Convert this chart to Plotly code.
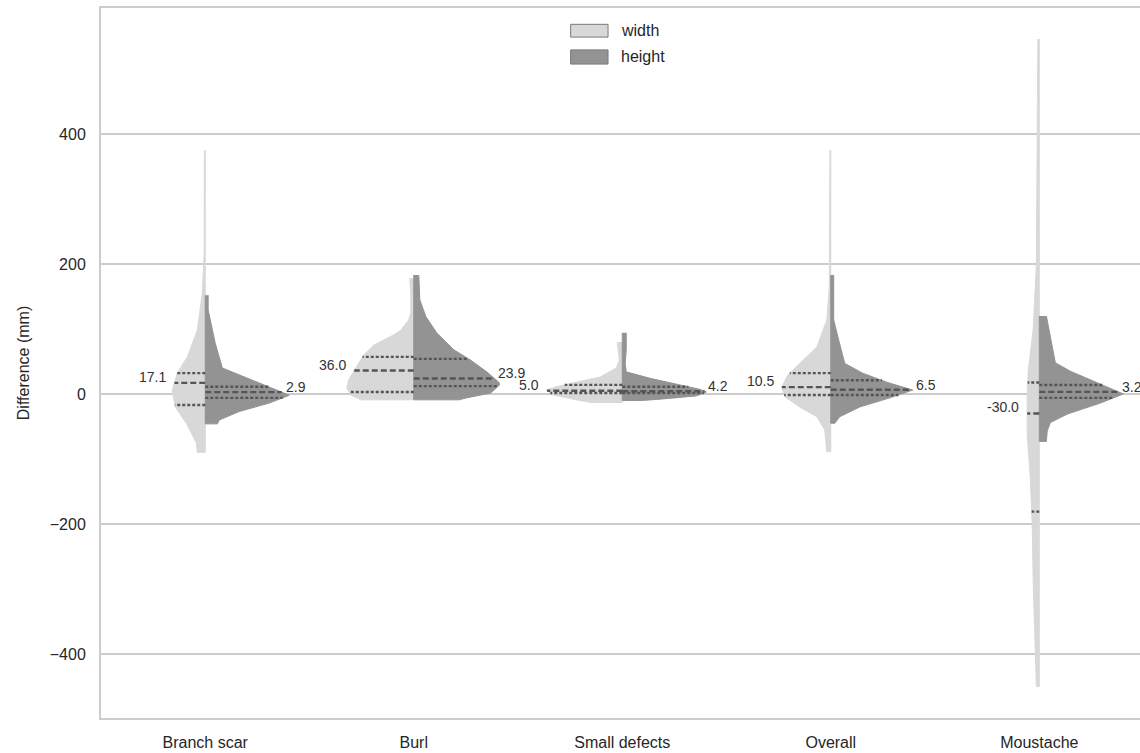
import numpy as np
import plotly.graph_objects as go

# categories on the x axis
categories = ["Branch scar", "Burl", "Small defects", "Overall", "Moustache"]

# half-violin profiles: y in mm, half-width in category units
branch_width_y = [375, 217, 155, 98, 57, 32, 6, -20, -45, -75, -90]
branch_width_w = [0.004, 0.005, 0.014, 0.038, 0.086, 0.134, 0.158, 0.144, 0.091, 0.043, 0.038]
branch_height_y = [152, 129, 78, 40, 25, 11, -2, -14, -27, -40, -46]
branch_height_w = [0.014, 0.014, 0.048, 0.082, 0.197, 0.307, 0.403, 0.307, 0.163, 0.067, 0.058]

burl_width_y = [178, 155, 125, 114, 98, 91, 75, 60, 40, 22, 9, -1.5, -9]
burl_width_w = [0.019, 0.014, 0.014, 0.024, 0.062, 0.096, 0.192, 0.240, 0.278, 0.312, 0.321, 0.302, 0.254]
burl_height_y = [183, 145, 119, 94, 68, 52, 34, 18, 14, 1.5, -6, -9]
burl_height_w = [0.024, 0.029, 0.058, 0.110, 0.192, 0.273, 0.350, 0.408, 0.412, 0.369, 0.254, 0.216]

small_width_y = [80, 68, 52, 40, 26, 18, 11, 6, -1.5, -9, -13]
small_width_w = [0.024, 0.019, 0.014, 0.029, 0.106, 0.221, 0.317, 0.365, 0.331, 0.221, 0.153]
small_height_y = [94, 68, 47, 34, 24, 15, 7, 3, -3, -8, -10]
small_height_w = [0.019, 0.019, 0.014, 0.019, 0.134, 0.259, 0.374, 0.403, 0.355, 0.182, 0.096]

overall_width_y = [375, 165, 114, 72, 47, 29, 11, -4, -20, -35, -55, -89]
overall_width_w = [0.004, 0.007, 0.019, 0.067, 0.149, 0.206, 0.235, 0.221, 0.149, 0.067, 0.029, 0.019]
overall_height_y = [183, 114, 88, 47, 32, 18, 6, -6, -20, -35, -45]
overall_height_w = [0.014, 0.014, 0.034, 0.067, 0.153, 0.269, 0.393, 0.283, 0.139, 0.043, 0.019]

moustache_width_y = [546, 400, 199, 100, 35, 2, -63, -129, -201, -292, -400, -450]
moustache_width_w = [0.007, 0.010, 0.014, 0.029, 0.053, 0.058, 0.058, 0.043, 0.034, 0.029, 0.019, 0.014]
moustache_height_y = [120, 87, 48, 35, 15, 0, -14, -31, -44, -57, -73]
moustache_height_w = [0.034, 0.053, 0.077, 0.149, 0.293, 0.403, 0.293, 0.134, 0.053, 0.038, 0.034]

# quartiles (q3, median, q1) per category
width_q3 = [32, 57, 14, 32, 17.6]
width_median = [17.1, 36.0, 5.0, 10.5, -30.0]
width_q1 = [-17, 3, 1.5, -1.5, -181]
height_q3 = [11, 54, 11, 21, 13.7]
height_median = [2.9, 23.9, 4.2, 6.5, 3.2]
height_q1 = [-6, 12, 1.5, -1.5, -6]

width_profiles = [(branch_width_y, branch_width_w), (burl_width_y, burl_width_w),
                  (small_width_y, small_width_w), (overall_width_y, overall_width_w),
                  (moustache_width_y, moustache_width_w)]
height_profiles = [(branch_height_y, branch_height_w), (burl_height_y, burl_height_w),
                   (small_height_y, small_height_w), (overall_height_y, overall_height_w),
                   (moustache_height_y, moustache_height_w)]

LIGHT = "#d8d8d8"
DARK = "#939393"
INNER = "#555555"
TEXT = "#262626"
GRID = "#cccccc"
FONT = "Liberation Sans, Arial, sans-serif"

fig = go.Figure()


def half_width_at(profile, y):
    ys, ws = profile
    return float(np.interp(y, ys[::-1], ws[::-1]))


def add_half(i, profile, sign, color):
    ys, ws = profile
    xs = [i + sign * w for w in ws] + [i, i]
    yy = list(ys) + [ys[-1], ys[0]]
    fig.add_trace(go.Scatter(
        x=xs, y=yy, mode="lines", fill="toself", fillcolor=color,
        line=dict(color=color, width=1), hoverinfo="skip", showlegend=False,
    ))


def add_quartiles(i, profile, sign, q3, med, q1):
    for val, dash in [(q3, "3px,2px"), (med, "6px,3px"), (q1, "3px,2px")]:
        w = half_width_at(profile, val)
        fig.add_trace(go.Scatter(
            x=[i, i + sign * w], y=[val, val], mode="lines",
            line=dict(color=INNER, width=2.4, dash=dash),
            hoverinfo="skip", showlegend=False,
        ))


for i, cat in enumerate(categories):
    add_half(i, width_profiles[i], -1, LIGHT)
    add_half(i, height_profiles[i], 1, DARK)
    add_quartiles(i, width_profiles[i], -1, width_q3[i], width_median[i], width_q1[i])
    add_quartiles(i, height_profiles[i], 1, height_q3[i], height_median[i], height_q1[i])

    # median labels
    wl = half_width_at(width_profiles[i], width_median[i])
    fig.add_annotation(x=i - wl, y=width_median[i], text=f"{width_median[i]:.1f}",
                       xanchor="right", yanchor="middle", xshift=-6, yshift=6,
                       showarrow=False, font=dict(size=14, color="#333333", family=FONT))
    wr = half_width_at(height_profiles[i], height_median[i])
    fig.add_annotation(x=i + wr, y=height_median[i], text=f"{height_median[i]:.1f}",
                       xanchor="left", yanchor="middle", xshift=2, yshift=5,
                       showarrow=False, font=dict(size=14, color="#333333", family=FONT))

# legend drawn by hand to mimic the boxed patches
for (label, color, y0, y1, ty) in [("width", LIGHT, 0.959, 0.977, 0.969),
                                   ("height", DARK, 0.921, 0.941, 0.931)]:
    fig.add_shape(type="rect", xref="paper", yref="paper", x0=0.452, x1=0.488, y0=y0, y1=y1,
                  fillcolor=color, line=dict(color="#7a7a7a", width=1))
    fig.add_annotation(xref="paper", yref="paper", x=0.499, y=ty, text=label,
                       xanchor="left", yanchor="middle", showarrow=False,
                       font=dict(size=16, color=TEXT, family=FONT))

fig.update_layout(
    width=1140, height=753,
    margin=dict(l=101, r=0, t=8, b=35),
    plot_bgcolor="white", paper_bgcolor="white",
    font=dict(family=FONT, size=16, color=TEXT),
    showlegend=False,
)
fig.update_xaxes(
    range=[-0.5, 4.483], tickmode="array", tickvals=list(range(len(categories))),
    ticktext=categories, showgrid=False, zeroline=False,
    showline=True, mirror=True, linecolor=GRID, linewidth=2,
    ticks="outside", ticklen=9, tickcolor="rgba(0,0,0,0)",
    tickfont=dict(size=16, color=TEXT),
)
fig.update_yaxes(
    range=[-498.5, 593.8], tickvals=[-400, -200, 0, 200, 400],
    showgrid=True, gridcolor=GRID, gridwidth=1.8, zeroline=False,
    showline=True, linecolor=GRID, linewidth=2,
    ticks="outside", ticklen=10, tickcolor="rgba(0,0,0,0)",
    tickfont=dict(size=16, color=TEXT),
    title=dict(text="Difference (mm)", font=dict(size=16, color=TEXT), standoff=16),
)

fig.write_html("out.html", config={"displayModeBar": False},
               post_script="document.body.style.margin='0';")
